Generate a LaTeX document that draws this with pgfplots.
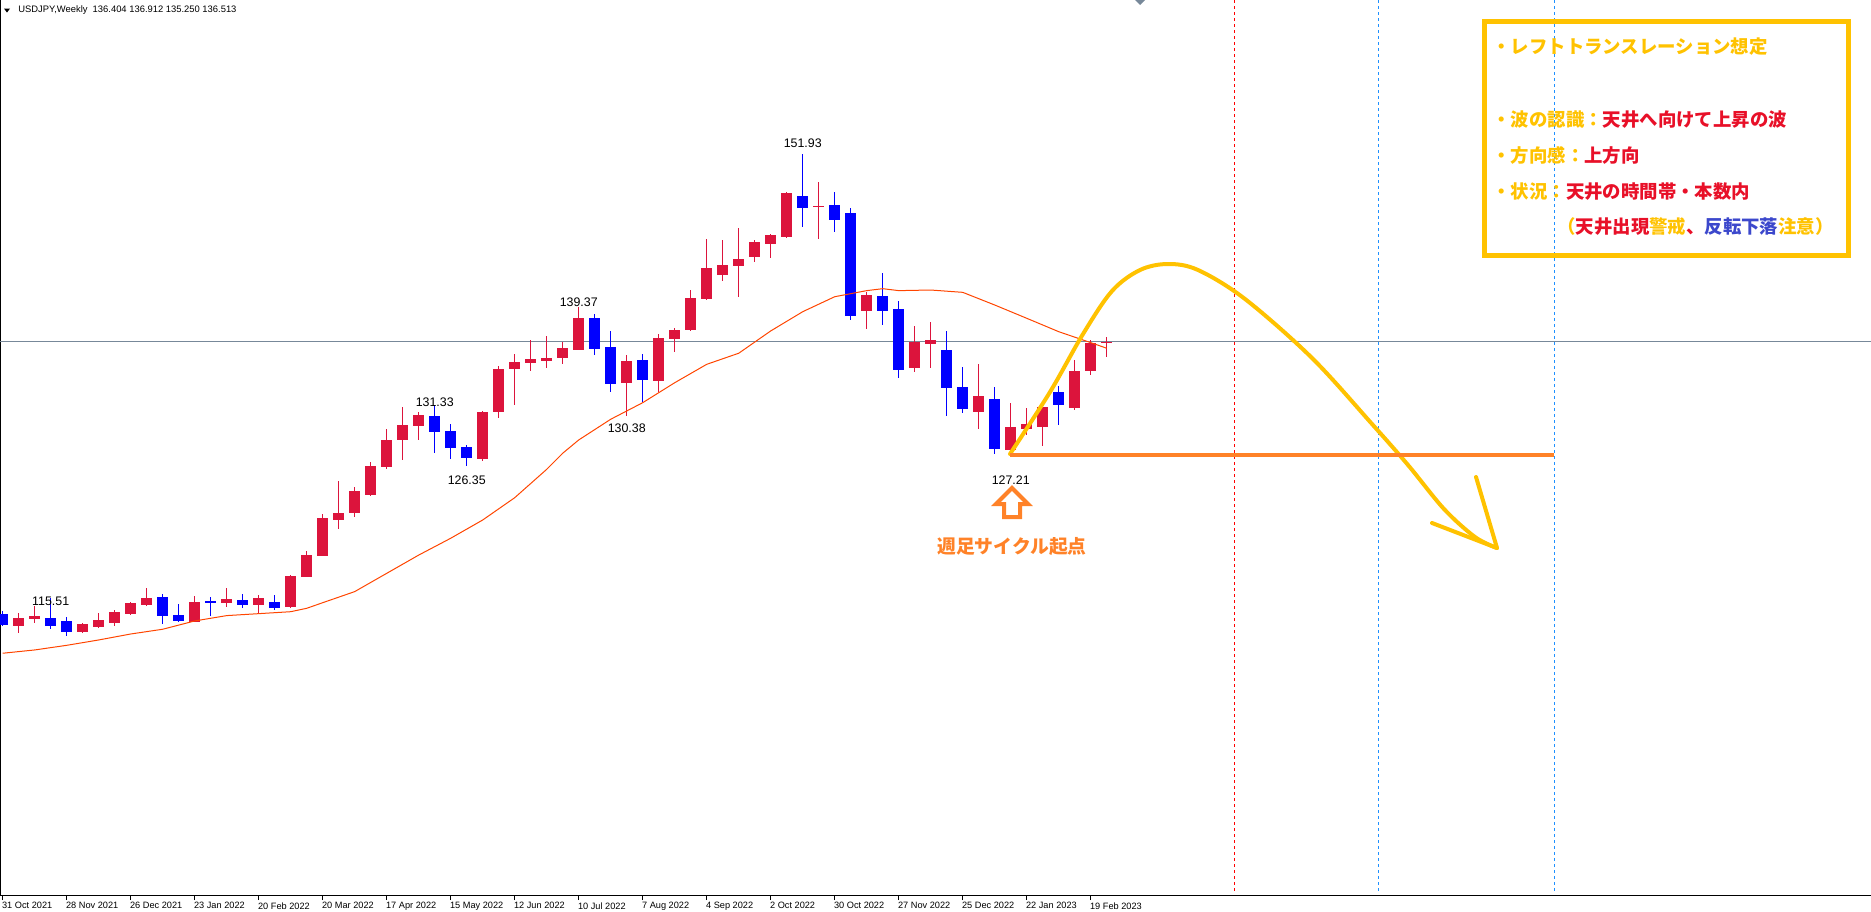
\documentclass[border=0pt]{standalone}
\usepackage{fontspec}
\setmainfont{Liberation Sans}
\newfontfamily\jp{Noto Sans CJK JP}
\usepackage{pgfplots}
\usepackage{pgfplotstable}
\pgfplotsset{compat=1.18}

\definecolor{upred}{RGB}{220,20,60}
\definecolor{dnblue}{RGB}{0,0,255}
\definecolor{maline}{RGB}{255,69,0}
\definecolor{bidline}{RGB}{119,136,153}
\definecolor{dodger}{RGB}{30,144,255}
\definecolor{goldc}{RGB}{255,194,0}
\definecolor{jred}{RGB}{232,16,40}
\definecolor{jblue}{RGB}{60,72,204}
\definecolor{orangeL}{RGB}{255,130,40}

% weekly candles, i = weeks since 31 Oct 2021
\pgfplotstableread{
i o h l c
1 113.21 114.22 112.63 113.81
2 113.78 114.85 113.45 114.00
5 112.71 113.45 112.60 113.34
6 113.13 114.27 112.99 113.67
7 113.45 114.46 113.21 114.30
8 114.16 115.12 114.10 115.04
9 114.90 116.33 114.85 115.48
12 113.54 115.64 113.48 115.15
14 115.10 116.30 114.77 115.40
16 114.93 115.75 114.22 115.48
18 114.77 117.34 114.69 117.28
19 117.23 119.34 117.20 119.01
20 118.95 122.37 118.90 122.07
21 121.91 125.08 121.17 122.46
22 122.48 124.56 122.15 124.26
23 123.93 126.67 123.85 126.32
24 126.21 129.35 126.10 128.45
25 128.45 131.18 126.81 129.68
26 129.63 130.72 128.45 130.53
30 126.89 130.86 126.75 130.75
31 130.78 134.52 130.28 134.28
32 134.25 135.51 131.32 134.85
33 134.80 136.66 134.14 135.10
34 134.96 136.99 134.36 135.18
35 135.21 136.49 134.72 136.00
36 135.87 139.37 135.80 138.47
39 133.13 135.43 130.38 134.93
41 133.32 137.12 132.42 136.82
42 136.77 137.62 135.70 137.48
43 137.45 140.76 137.40 140.11
44 140.03 144.95 139.94 142.57
45 142.00 144.87 141.53 142.82
46 142.73 145.85 140.22 143.31
47 143.47 144.87 143.09 144.70
48 144.54 145.39 143.42 145.28
49 145.11 148.81 145.06 148.73
51 147.60 149.63 144.95 147.66
54 139.00 140.63 137.56 140.35
57 134.39 137.81 134.06 136.50
58 136.36 138.16 134.39 136.69
61 130.75 134.69 129.38 132.09
63 127.66 131.49 127.21 129.52
64 129.35 131.08 128.86 129.76
65 129.54 131.19 127.98 131.16
67 131.10 135.02 130.91 134.11
68 134.14 136.66 133.79 136.41
69 136.404 136.912 135.250 136.513
}\upc

\pgfplotstableread{
i o h l c
0 114.14 114.41 113.21 113.26
3 113.81 115.51 112.93 113.21
4 113.59 113.89 112.38 112.71
10 115.56 115.81 113.37 114.03
11 114.08 114.98 113.48 113.59
13 115.23 115.59 114.03 115.10
15 115.32 115.81 114.69 114.93
17 115.15 115.73 114.49 114.69
27 130.42 131.33 127.41 129.13
28 129.19 129.76 126.89 127.82
29 127.87 128.04 126.35 127.00
37 138.47 138.79 135.45 135.95
38 136.08 137.40 132.42 133.07
40 135.02 135.51 131.57 133.40
50 148.48 151.93 145.94 147.50
52 147.74 148.84 145.53 146.51
53 147.09 147.52 138.30 138.66
55 140.27 142.19 137.89 139.07
56 139.20 139.86 133.51 134.22
59 135.87 137.43 130.45 132.75
60 132.83 134.47 130.69 131.02
62 131.81 132.83 127.33 127.71
66 132.39 132.88 129.71 131.35
}\dnc

\pgfplotstableread{
i ma
0 110.94
2 111.21
4 111.59
6 112.03
8 112.52
10 112.91
12 113.59
14 114.03
16 114.19
18 114.35
19 114.63
20 115.09
22 116.00
24 117.50
26 119.00
28 120.38
30 121.88
32 123.71
34 126.04
35 127.36
36 128.45
38 130.15
40 131.51
42 133.15
44 134.66
46 135.57
48 137.40
50 138.98
52 140.21
54 140.71
55 140.87
56 140.71
58 140.76
60 140.57
62 139.53
64 138.44
66 137.34
68 136.44
69 135.98
}\mavals

\begin{document}
\begin{tikzpicture}
\useasboundingbox (0,0) rectangle (935.5pt,-455.5pt);
\begin{axis}[
  at={(0,0)}, anchor=north west,
  width=935.5pt, height=447.5pt, scale only axis,
  xmin=-0.17, xmax=116.77,
  ymin=91.09, ymax=164.57,
  axis x line*=bottom, axis y line*=left,
  axis line style={-, black, line width=0.5pt},
  ytick=\empty,
  xtick={0,4,...,68},
  xticklabels={31 Oct 2021, 28 Nov 2021, 26 Dec 2021, 23 Jan 2022, 20 Feb 2022, 20 Mar 2022, 17 Apr 2022, 15 May 2022, 12 Jun 2022, 10 Jul 2022, 7 Aug 2022, 4 Sep 2022, 2 Oct 2022, 30 Oct 2022, 27 Nov 2022, 25 Dec 2022, 22 Jan 2023, 19 Feb 2023},
  tick align=outside, major tick length=2.5pt,
  x tick style={black, line width=0.5pt},
  xticklabel style={anchor=north west, inner sep=0pt, xshift=-0.5pt, yshift=-1pt,
    font=\fontsize{4.6}{5}\selectfont},
]
% current bid line
\addplot[bidline, line width=0.5pt, forget plot] coordinates {(-1,136.513) (118,136.513)};

% wicks
\addplot[draw=none, forget plot, error bars/.cd, y dir=both, y explicit, error mark=none,
  error bar style={draw=upred, line width=0.5pt}]
  table[x=i, y expr={(\thisrow{h}+\thisrow{l})/2}, y error expr={(\thisrow{h}-\thisrow{l})/2}] {\upc};
\addplot[draw=none, forget plot, error bars/.cd, y dir=both, y explicit, error mark=none,
  error bar style={draw=dnblue, line width=0.5pt}]
  table[x=i, y expr={(\thisrow{h}+\thisrow{l})/2}, y error expr={(\thisrow{h}-\thisrow{l})/2}] {\dnc};
% bodies
\addplot[draw=none, forget plot, error bars/.cd, y dir=both, y explicit, error mark=none,
  error bar style={draw=upred, line width=5.33pt}]
  table[x=i, y expr={(\thisrow{o}+\thisrow{c})/2}, y error expr={max(abs(\thisrow{c}-\thisrow{o})/2,0.04)}] {\upc};
\addplot[draw=none, forget plot, error bars/.cd, y dir=both, y explicit, error mark=none,
  error bar style={draw=dnblue, line width=5.33pt}]
  table[x=i, y expr={(\thisrow{o}+\thisrow{c})/2}, y error expr={max(abs(\thisrow{c}-\thisrow{o})/2,0.04)}] {\dnc};

% moving average
\addplot[maline, line width=0.5pt] table[x=i, y=ma] {\mavals};

% high / low labels
\begin{scope}[every node/.style={font=\fontsize{6.2}{7}\selectfont, inner sep=0pt}]
\node at (axis cs:3,115.21) {115.51};
\node at (axis cs:27,131.57) {131.33};
\node at (axis cs:29,125.17) {126.35};
\node at (axis cs:36,139.78) {139.37};
\node at (axis cs:39,129.38) {130.38};
\node at (axis cs:50,152.81) {151.93};
\node at (axis cs:63,125.17) {127.21};
\end{scope}
\end{axis}

% annotations, in pixels of the reference
\begin{scope}[x=0.5pt, y=-0.5pt]
\fill[black] (4,8.5) -- (10,8.5) -- (7,12.5) -- cycle;
\node[anchor=west, inner sep=0pt, font=\fontsize{4.7}{5}\selectfont] at (18,10)
  {USDJPY,Weekly\ \ 136.404 136.912 135.250 136.513};
\fill[bidline] (1135,0) -- (1145,0) -- (1140,5) -- cycle;

\draw[red, line width=0.5pt, dash pattern=on 1.5pt off 1.5pt] (1234.5,0) -- (1234.5,894);
\draw[dodger, line width=0.5pt, dash pattern=on 1.5pt off 1.5pt] (1378.5,0) -- (1378.5,894);
\draw[dodger, line width=0.5pt, dash pattern=on 1.5pt off 1.5pt] (1554,0) -- (1554,894);

\draw[goldc, line width=2pt, line cap=round, line join=round]
  plot[smooth, tension=0.55] coordinates {(1010,454) (1050,392) (1083,334) (1112,291)
  (1140,270) (1168,264) (1198,270) (1245,299) (1312,358) (1372,424) (1408,465)
  (1444,509) (1475,537) (1497,548)};
\draw[goldc, line width=2pt, line cap=round, line join=round]
  (1476,477) -- (1497,548) -- (1432,523);
\draw[orangeL, line width=2pt] (1010,455) -- (1554,455);

\draw[orangeL, line width=2pt, fill=white, line join=miter]
  (1012,488) -- (1028,504) -- (1020,504) -- (1020,517) -- (1004,517)
  -- (1004,504) -- (996,504) -- cycle;
\node[text=orangeL, inner sep=0pt, font=\jp\bfseries\fontsize{9.4}{11}\selectfont]
  at (1012,546) {週足サイクル起点};

\draw[goldc, line width=2.5pt] (1484.8,21.8) rectangle (1848.5,255.8);
\begin{scope}[every node/.style={anchor=west, inner sep=0pt,
    font=\jp\bfseries\fontsize{9.2}{11}\selectfont}]
\node at (1492,46.7) {\textcolor{goldc}{・レフトトランスレーション想定}};
\node at (1492,120) {\textcolor{goldc}{・波の認識：}\textcolor{jred}{天井へ向けて上昇の波}};
\node at (1492,155.7) {\textcolor{goldc}{・方向感：}\textcolor{jred}{上方向}};
\node at (1492,191.7) {\textcolor{goldc}{・状況：}\textcolor{jred}{天井の時間帯・本数内}};
\node at (1557,226.7) {\textcolor{goldc}{（}\textcolor{jred}{天井出現}\textcolor{goldc}{警戒}\textcolor{jred}{、}\textcolor{jblue}{反転下落}\textcolor{goldc}{注意）}};
\end{scope}
\end{scope}
\end{tikzpicture}
\end{document}
